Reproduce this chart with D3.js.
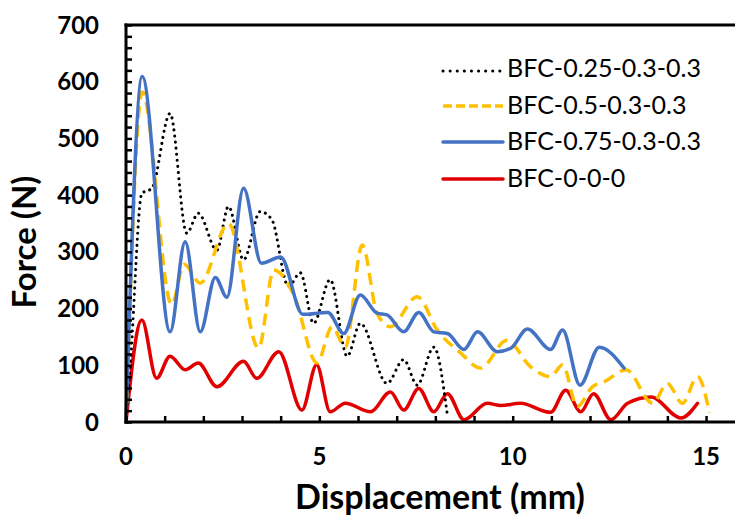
<!DOCTYPE html>
<html>
<head>
<meta charset="utf-8">
<script src="https://cdn.jsdelivr.net/npm/d3@7/dist/d3.min.js"></script>
<style>
  html, body { margin: 0; padding: 0; background: #fff; }
  svg { display: block; }
  text { font-family: Lato, Carlito, Calibri, "Open Sans", sans-serif; fill: #000; }
</style>
</head>
<body>
<svg id="chart" width="735" height="517"></svg>
<script>
// ---- data ----
const seriesNames = ["BFC-0.25-0.3-0.3", "BFC-0.5-0.3-0.3", "BFC-0.75-0.3-0.3", "BFC-0-0-0"];

const s025 = [[0,0],[0.12,110],[0.41,403],[0.67,412],[1.14,544],[1.57,333],[1.87,368],[2.35,303],[2.65,380],[3.04,286],[3.47,371],[3.77,357],[4.2,239],[4.51,263],[4.85,174],[5.28,251],[5.72,116],[6.06,174],[6.75,68],[7.18,110],[7.53,65],[7.96,132],[8.31,12]];

const s05 = [[0,0],[0.42,582],[1.18,207],[1.5,278],[1.92,245],[2.65,350],[3.43,130],[3.82,268],[4.34,224],[4.94,104],[5.33,168],[5.67,132],[6.11,312],[6.49,192],[6.84,168],[7.53,221],[8.05,162],[8.65,122],[9.17,95],[9.85,144],[10.45,98],[10.98,80],[11.29,101],[11.67,27],[12.06,62],[12.37,71],[12.93,92],[13.62,33],[14.0,68],[14.39,33],[14.78,80],[15.09,16]];

const s075 = [[0,0],[0.42,609],[1.14,159],[1.53,318],[1.92,159],[2.31,255],[2.61,220],[3.04,412],[3.5,280],[4.0,291],[4.57,190],[5.22,193],[5.63,156],[6.06,224],[6.49,192],[6.75,189],[7.18,159],[7.57,193],[7.96,159],[8.31,156],[8.74,128],[9.09,159],[9.6,124],[9.95,130],[10.38,164],[10.98,128],[11.29,162],[11.74,65],[12.24,132],[12.88,95]];

const s000 = [[0,0],[0.41,180],[0.79,77],[1.14,116],[1.53,92],[1.87,104],[2.35,62],[3.04,107],[3.38,77],[3.95,124],[4.55,21],[4.93,101],[5.28,18],[5.67,33],[6.32,18],[6.84,53],[7.18,21],[7.57,59],[7.96,18],[8.31,50],[8.74,4],[9.34,33],[9.69,29],[10.2,33],[10.98,17],[11.37,56],[11.76,18],[12.09,50],[12.54,4],[12.97,33],[13.58,44],[14.35,7],[14.78,33]];

const yTickLabels = [0, 100, 200, 300, 400, 500, 600, 700];
const xTickLabels = [0, 5, 10, 15];

// ---- layout ----
const svg = d3.select("#chart");
const plotLeft = 126, plotTop = 25, plotBottom = 422;
const pxPerUnit = 38.67;
const x = d3.scaleLinear().domain([0, 16]).range([plotLeft, plotLeft + 16 * pxPerUnit]);
const y = d3.scaleLinear().domain([0, 700]).range([plotBottom, plotTop]);

const series = [
  { name: seriesNames[0], data: s025, color: "#000000", width: 3, dash: "0.1,6", cap: "round" },
  { name: seriesNames[1], data: s05,  color: "#FFC000", width: 3.5, dash: "12,7", cap: "butt" },
  { name: seriesNames[2], data: s075, color: "#4472C4", width: 3.5, dash: null, cap: "round" },
  { name: seriesNames[3], data: s000, color: "#E00000", width: 3.5, dash: null, cap: "round" }
];

const line = d3.line()
  .x(d => x(d[0]))
  .y(d => y(d[1]))
  .curve(d3.curveMonotoneX);

// draw order: red, black, yellow, blue on top
const drawOrder = [3, 0, 1, 2];
drawOrder.forEach(i => {
  const s = series[i];
  svg.append("path")
    .attr("d", line(s.data))
    .attr("fill", "none")
    .attr("stroke", s.color)
    .attr("stroke-width", s.width)
    .attr("stroke-linecap", s.cap)
    .attr("stroke-linejoin", "round")
    .attr("stroke-dasharray", s.dash);
});

// ---- axes ----
const yAxis = d3.axisRight(y)
  .tickValues(d3.range(0, 701, 20))
  .tickSize(6)
  .tickFormat("");
const gy = svg.append("g").attr("transform", `translate(${plotLeft},0)`).call(yAxis);
gy.select(".domain").remove();
gy.selectAll(".tick line").attr("stroke", "#000").attr("stroke-width", 2.5);

const xAxis = d3.axisTop(x)
  .tickValues(d3.range(0, 17, 1))
  .tickSize(6)
  .tickFormat("");
const gx = svg.append("g").attr("transform", `translate(0,${plotBottom})`).call(xAxis);
gx.select(".domain").remove();
gx.selectAll(".tick line").attr("stroke", "#000").attr("stroke-width", 2.5);

// axis lines and top border
svg.append("line").attr("x1", plotLeft).attr("x2", plotLeft).attr("y1", plotTop - 1.5).attr("y2", plotBottom + 1.5)
  .attr("stroke", "#000").attr("stroke-width", 3);
svg.append("line").attr("x1", plotLeft - 1.5).attr("x2", 735).attr("y1", plotBottom).attr("y2", plotBottom)
  .attr("stroke", "#000").attr("stroke-width", 3);
svg.append("line").attr("x1", plotLeft - 1.5).attr("x2", 735).attr("y1", plotTop).attr("y2", plotTop)
  .attr("stroke", "#000").attr("stroke-width", 3);

// tick labels
svg.append("g").selectAll("text").data(yTickLabels).join("text")
  .attr("x", 99).attr("y", d => y(d))
  .attr("dy", "0.36em")
  .attr("text-anchor", "end")
  .attr("font-size", 24).attr("font-weight", 700)
  .text(d => d);

svg.append("g").selectAll("text").data(xTickLabels).join("text")
  .attr("x", d => x(d)).attr("y", 465)
  .attr("text-anchor", "middle")
  .attr("font-size", 24).attr("font-weight", 700)
  .text(d => d);

// axis titles
svg.append("text")
  .attr("x", 440).attr("y", 509)
  .attr("text-anchor", "middle")
  .attr("font-size", 34).attr("font-weight", 700)
  .text("Displacement (mm)");

svg.append("text")
  .attr("transform", "translate(36,242) rotate(-90)")
  .attr("text-anchor", "middle")
  .attr("font-size", 33).attr("font-weight", 700)
  .text("Force (N)");

// legend
const legendY = [68, 105, 141, 178];
const lg = svg.append("g");
series.forEach((s, i) => {
  const ly = legendY[i];
  lg.append("line")
    .attr("x1", 443).attr("x2", 503)
    .attr("y1", ly + (i === 0 ? 3 : 1)).attr("y2", ly + (i === 0 ? 3 : 1))
    .attr("stroke", s.color)
    .attr("stroke-width", s.width)
    .attr("stroke-linecap", s.cap)
    .attr("stroke-dasharray", i === 0 ? "0.1,7" : (i === 1 ? "9,4" : null));
  lg.append("text")
    .attr("x", 507).attr("y", ly)
    .attr("dy", "0.36em")
    .attr("font-size", 25)
    .text(s.name);
});
</script>
</body>
</html>
